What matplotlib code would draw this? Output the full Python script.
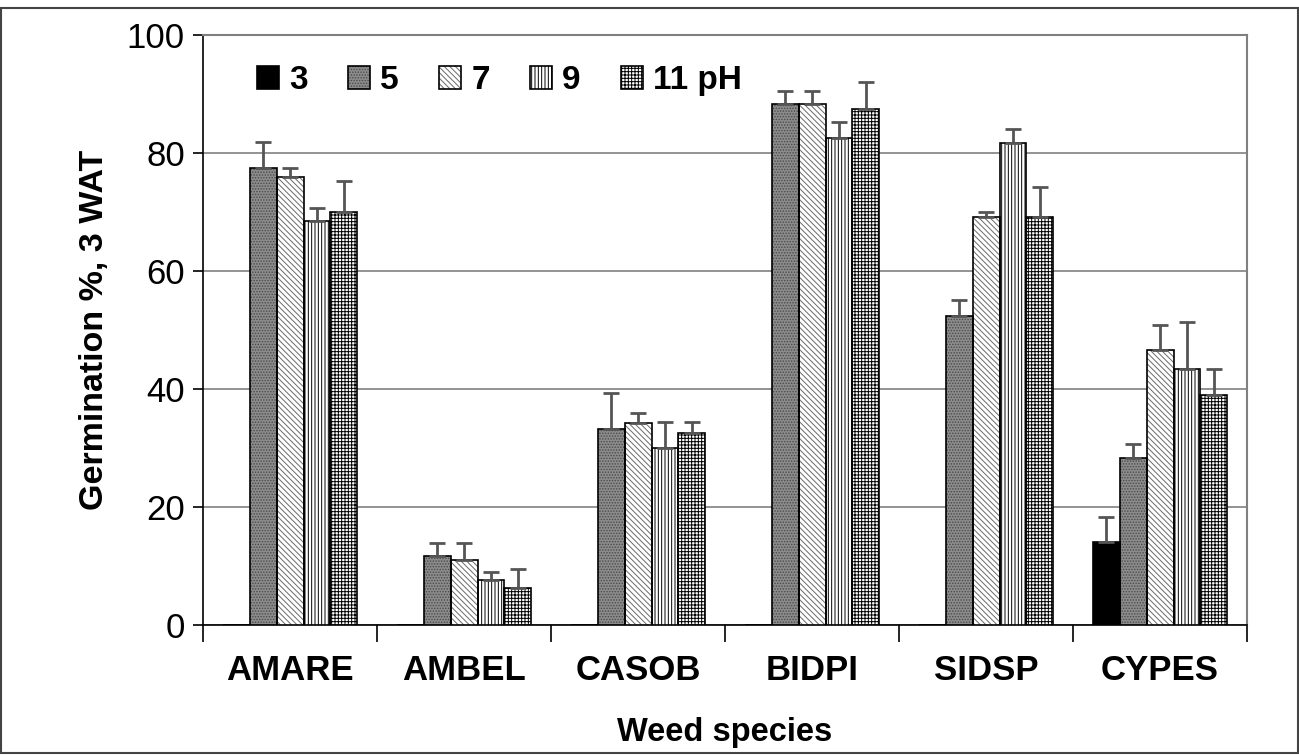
import numpy as np
import matplotlib
matplotlib.use('Agg')
import matplotlib.pyplot as plt
from matplotlib.patches import Patch, Rectangle

plt.rcParams['font.family'] = ['Liberation Sans', 'DejaVu Sans']

# -----------------------
# Data
# -----------------------
species = ['AMARE', 'AMBEL', 'CASOB', 'BIDPI', 'SIDSP', 'CYPES']
ph_labels = ['3', '5', '7', '9', '11 pH']

ph3 = [0, 0, 0, 0, 0, 14.0]
ph5 = [77.5, 11.6, 33.2, 88.3, 52.3, 28.3]
ph7 = [75.9, 10.9, 34.2, 88.3, 69.2, 46.5]
ph9 = [68.5, 7.5, 30.0, 82.5, 81.7, 43.3]
ph11 = [70.0, 6.2, 32.5, 87.5, 69.2, 39.0]

err3 = [0, 0, 0, 0, 0, 4.2]
err5 = [4.4, 2.2, 6.1, 2.2, 2.7, 2.3]
err7 = [1.6, 3.0, 1.6, 2.2, 0.8, 4.3]
err9 = [2.1, 1.4, 4.3, 2.8, 2.3, 8.0]
err11 = [5.3, 3.3, 1.8, 4.5, 5.1, 4.3]

values = [ph3, ph5, ph7, ph9, ph11]
errors = [err3, err5, err7, err9, err11]

# fill / hatch style for each pH
faces = ['black', '#8c8c8c', 'white', 'white', 'white']
hatch_colors = ['black', '#4a4a4a', '#6a6a6a', 'black', 'black']
hatches = [None, '......', '\\\\\\\\\\\\', '|||||', '+++++']

# -----------------------
# Plot
# -----------------------
fig = plt.figure(figsize=(12.99, 7.55), dpi=100)
ax = fig.add_axes([0.1563, 0.1728, 0.8037, 0.7808])

plt.rcParams['hatch.linewidth'] = 0.7
x = np.arange(len(species))
width = 0.155
handles = []
for i, (vals, errs) in enumerate(zip(values, errors)):
    pos = x + (i - 2) * width
    ax.bar(pos, vals, width, color=faces[i], edgecolor=hatch_colors[i],
           hatch=hatches[i], linewidth=0, zorder=3)
    ax.bar(pos, vals, width, fill=False, edgecolor='black', linewidth=1.2, zorder=4)
    show = [e > 0 for e in errs]
    p = pos[show]
    v = np.array(vals)[show]
    e = np.array(errs)[show]
    _, caps, _ = ax.errorbar(p, v, yerr=[np.zeros_like(e), e], fmt='none',
                             ecolor='#555555', elinewidth=2, capsize=6,
                             capthick=2, zorder=5)
    for c in caps:
        c.set_color('black')
    h1 = Patch(facecolor=faces[i], edgecolor=hatch_colors[i], hatch=hatches[i], linewidth=0)
    h2 = Patch(fill=False, edgecolor='black', linewidth=1.2)
    handles.append((h1, h2))

ax.set_xlim(-0.5, len(species) - 0.5)
ax.set_ylim(0, 100)
ax.set_yticks([0, 20, 40, 60, 80, 100])
ax.tick_params(axis='y', labelsize=25, length=7, width=1.2, direction='out', pad=6)
ax.yaxis.grid(True, color='#808080', linewidth=1.2, zorder=0)
ax.set_axisbelow(True)

ax.set_xticks(x)
ax.set_xticklabels(species, fontsize=25, fontweight='bold')
ax.tick_params(axis='x', length=0, pad=21)
ax.set_xticks(np.arange(-0.5, len(species)), minor=True)
ax.tick_params(axis='x', which='minor', length=12, width=1.2, direction='out')

for s in ['left', 'bottom']:
    ax.spines[s].set_color('black')
    ax.spines[s].set_linewidth(1.2)
for s in ['top', 'right']:
    ax.spines[s].set_color('#808080')
    ax.spines[s].set_linewidth(1.5)

ax.set_ylabel('Germination %, 3 WAT', fontsize=24.5, fontweight='bold', labelpad=12)
ax.set_xlabel('Weed species', fontsize=23.5, fontweight='bold', labelpad=22)

ax.legend(handles, ph_labels, ncol=5, loc='upper left', bbox_to_anchor=(0.023, 1.0),
          frameon=False, prop={'size': 24, 'weight': 'bold'}, handlelength=0.67,
          handleheight=0.67, handletextpad=0.3, columnspacing=1.2)

# outer frame around the whole figure
fig.patches.append(Rectangle((0.001, 0.002), 0.998, 0.988, transform=fig.transFigure,
                             fill=False, edgecolor='#444444', linewidth=1.5))

fig.savefig('out.png', dpi=100)
